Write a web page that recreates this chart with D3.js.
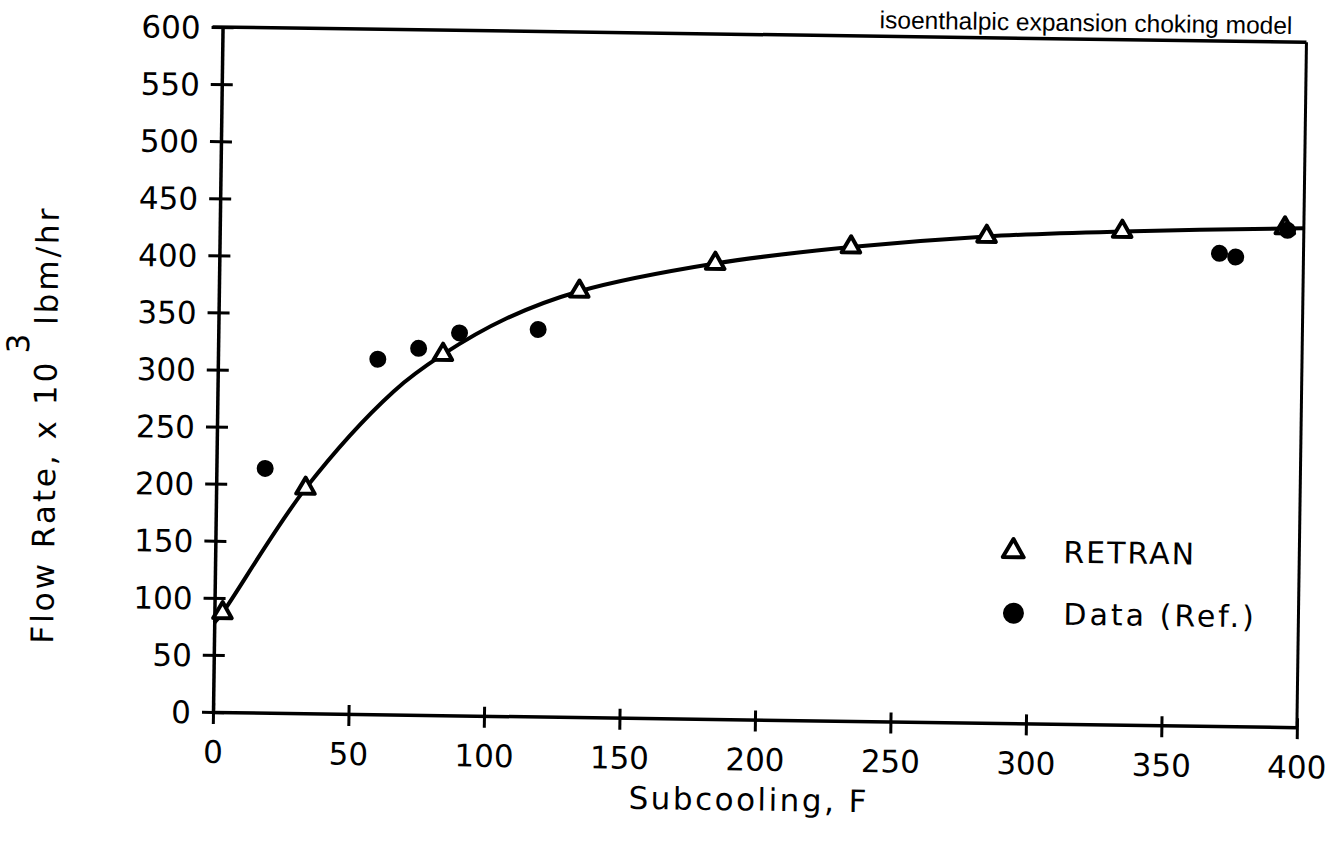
<!DOCTYPE html>
<html>
<head>
<meta charset="utf-8">
<script src="https://cdn.jsdelivr.net/npm/d3@7"></script>
<style>
  body { margin: 0; background: #fff; }
  text { font-family: "DejaVu Sans", sans-serif; fill: #000; }
</style>
</head>
<body>
<div id="chart"></div>
<script>
const width = 1343;
const height = 842;

// tick labels
const xTicks = [0, 50, 100, 150, 200, 250, 300, 350, 400];
const yTicks = [0, 50, 100, 150, 200, 250, 300, 350, 400, 450, 500, 550, 600];

// RETRAN (triangles)
const retranX = [3, 33, 83, 133, 183, 233, 283, 333, 393];
const retranY = [87, 197, 316, 373, 399, 415, 426, 432, 437];

// Data (Ref.) (filled circles)
const dataX = [18, 59, 74, 89, 118, 369, 375, 394];
const dataY = [214, 311, 321, 335, 339, 414, 411, 435];

// fitted curve
const curveX = [0, 3, 33, 65, 83, 106, 133, 183, 233, 283, 333, 400];
const curveY = [78, 87, 197, 283, 316, 348, 373, 399, 415, 426, 432, 437];

const margin = { left: 213, top: 27 };
const plotW = 1084;
const plotH = 685;

const svg = d3.select("#chart").append("svg")
    .attr("width", width)
    .attr("height", height);

// the scan is slightly tilted, so the whole plot is rotated a little round the origin
const root = svg.append("g")
    .attr("transform", `rotate(0.8, ${margin.left}, ${margin.top + plotH})`);

const g = root.append("g")
    .attr("transform", `translate(${margin.left},${margin.top})`);

const x = d3.scaleLinear().domain([0, 400]).range([0, plotW]);
const y = d3.scaleLinear().domain([0, 600]).range([plotH, 0]);

// frame: top and right lines (top one sticks out a little on the left like a tick)
g.append("line")
    .attr("x1", -10).attr("x2", plotW)
    .attr("y1", 0).attr("y2", 0)
    .attr("stroke", "#000").attr("stroke-width", 3.5);
g.append("line")
    .attr("x1", plotW).attr("x2", plotW)
    .attr("y1", 0).attr("y2", plotH)
    .attr("stroke", "#000").attr("stroke-width", 3);

// x axis
const xAxis = g.append("g")
    .attr("transform", `translate(0,${plotH})`)
    .call(d3.axisBottom(x).tickValues(xTicks).tickSize(12).tickSizeOuter(0).tickPadding(0));

xAxis.select(".domain").attr("stroke-width", 3.5);
xAxis.selectAll(".tick line").attr("y1", -9).attr("stroke-width", 3);
xAxis.selectAll(".tick text")
    .attr("y", 51)
    .attr("dy", 0)
    .style("font-size", "31px");

// y axis
const yAxis = g.append("g")
    .call(d3.axisLeft(y).tickValues(yTicks).tickSize(11).tickSizeOuter(0).tickPadding(0));

yAxis.select(".domain").attr("stroke-width", 3.5);
yAxis.selectAll(".tick line").attr("x1", 11).attr("stroke-width", 3);
yAxis.selectAll(".tick text")
    .attr("x", -22)
    .attr("dy", "0.36em")
    .style("font-size", "31px");

// curve
const curvePts = curveX.map((d, i) => [d, curveY[i]]);
const line = d3.line()
    .x(d => x(d[0]))
    .y(d => y(d[1]))
    .curve(d3.curveCatmullRom.alpha(0.5));

g.append("path")
    .datum(curvePts)
    .attr("d", line)
    .attr("fill", "none")
    .attr("stroke", "#000")
    .attr("stroke-width", 4);

// RETRAN triangles
const tri = d3.symbol().type(d3.symbolTriangle).size(150);

g.selectAll(".retran")
    .data(retranX.map((d, i) => [d, retranY[i]]))
    .enter().append("path")
    .attr("class", "retran")
    .attr("d", tri)
    .attr("transform", d => `translate(${x(d[0])},${y(d[1])})`)
    .attr("fill", "#fff")
    .attr("stroke", "#000")
    .attr("stroke-width", 4)
    .attr("stroke-linejoin", "round");

// data dots
g.selectAll(".dot")
    .data(dataX.map((d, i) => [d, dataY[i]]))
    .enter().append("circle")
    .attr("class", "dot")
    .attr("cx", d => x(d[0]))
    .attr("cy", d => y(d[1]))
    .attr("r", 8.5)
    .attr("fill", "#000");

// axis titles
g.append("text")
    .attr("x", 537)
    .attr("y", plotH + 91)
    .attr("text-anchor", "middle")
    .style("font-size", "31px")
    .style("letter-spacing", "2.5px")
    .text("Subcooling, F");

const yTitle = g.append("text")
    .attr("transform", "translate(-161,400) rotate(-90)")
    .attr("text-anchor", "middle")
    .style("font-size", "31px")
    .style("letter-spacing", "3px");
yTitle.append("tspan").text("Flow Rate,  x 10");
yTitle.append("tspan").attr("dy", -28).attr("dx", 6).text("3");
yTitle.append("tspan").attr("dy", 28).attr("dx", 6).text("lbm/hr");

// title, sitting just above the frame on the right
g.append("text")
    .attr("x", 657)
    .attr("y", -8)
    .style("font-family", "'Liberation Sans', sans-serif")
    .style("font-size", "24.5px")
    .text("isoenthalpic expansion choking model");

// legend
const legend = g.append("g")
    .attr("transform", `translate(798,${plotH - 172})`);

legend.append("path")
    .attr("d", d3.symbol().type(d3.symbolTriangle).size(190))
    .attr("fill", "#fff")
    .attr("stroke", "#000")
    .attr("stroke-width", 4)
    .attr("stroke-linejoin", "round");

legend.append("text")
    .attr("x", 50)
    .attr("dy", "0.36em")
    .style("font-size", "30px")
    .style("letter-spacing", "2px")
    .text("RETRAN");

legend.append("circle")
    .attr("cx", 1)
    .attr("cy", 62)
    .attr("r", 10.5)
    .attr("fill", "#000");

legend.append("text")
    .attr("x", 51)
    .attr("y", 62)
    .attr("dy", "0.36em")
    .style("font-size", "30px")
    .style("letter-spacing", "3px")
    .text("Data (Ref.)");
</script>
</body>
</html>
